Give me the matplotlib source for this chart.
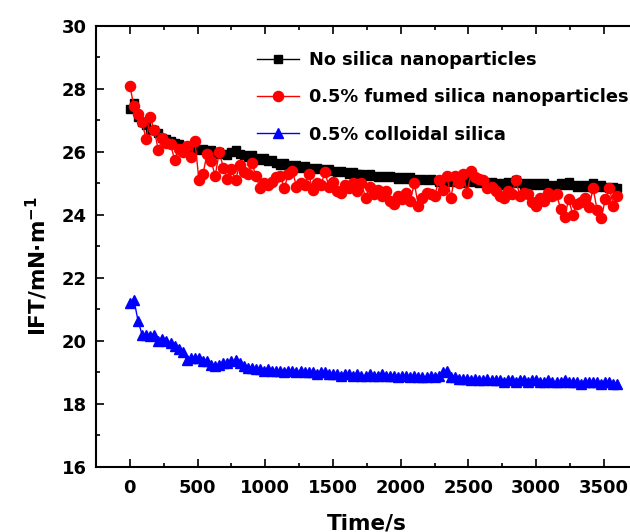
import matplotlib
matplotlib.use("Agg")
import matplotlib.pyplot as plt
import numpy as np
from matplotlib.ticker import MultipleLocator

plt.rcParams['font.family'] = ['DejaVu Sans']
plt.rcParams['font.weight'] = 'bold'
plt.rcParams['mathtext.default'] = 'bf'

# sampling times (s), one reading every 30 s
time_s = np.arange(0, 3601, 30)

# IFT (mN/m)
no_silica = [
    27.35, 27.55, 27.1, 26.95, 26.85, 26.7, 26.7, 26.6, 26.45, 26.4,
    26.35, 26.3, 26.25, 26.2, 26.15, 26.2, 26.1, 26.05, 26.1, 26.0,
    26.05, 25.95, 26.0, 25.95, 25.9, 26.0, 26.05, 25.95, 25.9, 25.85,
    25.9, 25.8, 25.75, 25.8, 25.7, 25.75, 25.65, 25.6, 25.65, 25.6,
    25.55, 25.6, 25.5, 25.55, 25.5, 25.45, 25.5, 25.45, 25.4, 25.45,
    25.4, 25.35, 25.4, 25.35, 25.3, 25.35, 25.3, 25.3, 25.25, 25.3,
    25.25, 25.2, 25.25, 25.2, 25.25, 25.2, 25.15, 25.2, 25.15, 25.2,
    25.15, 25.1, 25.15, 25.1, 25.15, 25.1, 25.05, 25.1, 25.05, 25.1,
    25.05, 25.1, 25.0, 25.05, 25.1, 25.05, 25.0, 25.05, 25.0, 25.05,
    25.0, 24.95, 25.0, 25.05, 25.0, 25.1, 25.0, 24.95, 25.0, 24.95,
    25.0, 24.95, 25.0, 24.95, 24.9, 24.95, 25.0, 24.95, 25.05, 24.95,
    24.9, 24.95, 24.9, 24.95, 25.0, 24.9, 24.95, 24.9, 24.85, 24.9,
    24.85,
]

fumed_silica = [
    28.1, 27.45, 27.2, 26.95, 26.4, 27.1, 26.7, 26.05, 26.45, 26.3,
    26.25, 25.75, 26.1, 26.0, 26.2, 25.85, 26.35, 25.1, 25.3, 25.95,
    25.7, 25.25, 26.0, 25.5, 25.15, 25.45, 25.1, 25.6, 25.35, 25.3,
    25.65, 25.25, 24.85, 25.0, 24.95, 25.05, 25.2, 25.25, 24.85, 25.3,
    25.4, 24.9, 25.0, 24.95, 25.3, 24.8, 25.0, 24.95, 25.35, 24.9,
    25.05, 24.75, 24.7, 24.95, 24.85, 25.0, 24.75, 25.0, 24.55, 24.9,
    24.65, 24.8, 24.6, 24.75, 24.45, 24.35, 24.6, 24.5, 24.7, 24.45,
    25.0, 24.3, 24.55, 24.7, 24.65, 24.6, 25.1, 24.8, 25.25, 24.55,
    25.25, 25.0, 25.3, 24.7, 25.4, 25.2, 25.15, 25.1, 24.85, 24.9,
    24.75, 24.6, 24.55, 24.75, 24.65, 25.1, 24.6, 24.7, 24.65, 24.4,
    24.3, 24.55, 24.45, 24.7, 24.6, 24.65, 24.2, 23.95, 24.5, 24.0,
    24.35, 24.4, 24.55, 24.25, 24.85, 24.15, 23.9, 24.5, 24.85, 24.3,
    24.6,
]

colloidal_silica = [
    21.2, 21.3, 20.65, 20.2, 20.2, 20.15, 20.2, 20.0, 20.05, 20.0,
    19.95, 19.85, 19.75, 19.65, 19.4, 19.45, 19.45, 19.45, 19.35, 19.35,
    19.25, 19.2, 19.25, 19.3, 19.3, 19.35, 19.4, 19.3, 19.2, 19.15,
    19.15, 19.1, 19.1, 19.05, 19.1, 19.05, 19.05, 19.05, 19.0, 19.05,
    19.05, 19.0, 19.05, 19.0, 19.0, 19.0, 18.95, 19.0, 19.0, 18.95,
    18.95, 18.95, 18.9, 18.95, 18.95, 18.9, 18.95, 18.9, 18.9, 18.95,
    18.9, 18.9, 18.95, 18.9, 18.9, 18.9, 18.85, 18.9, 18.9, 18.85,
    18.9, 18.85, 18.85, 18.85, 18.9, 18.85, 18.9, 19.0, 19.05, 18.85,
    18.85, 18.8, 18.8, 18.8, 18.75, 18.8, 18.75, 18.75, 18.8, 18.75,
    18.75, 18.75, 18.7, 18.75, 18.75, 18.7, 18.75, 18.75, 18.7, 18.75,
    18.75, 18.7, 18.7, 18.75, 18.7, 18.7, 18.7, 18.75, 18.7, 18.7,
    18.7, 18.65, 18.7, 18.7, 18.7, 18.7, 18.65, 18.7, 18.7, 18.65,
    18.65,
]

labels = ["No silica nanoparticles", "0.5% fumed silica nanoparticles",
          "0.5% colloidal silica"]

fig = plt.figure(figsize=(6.3, 5.32), dpi=100)
ax = fig.add_axes([0.1524, 0.1222, 0.860, 0.829])

ax.plot(time_s, no_silica, '-s', color='black', markersize=5.5, linewidth=1, label=labels[0])
ax.plot(time_s, fumed_silica, '-o', color='red', markersize=7.3, linewidth=1, label=labels[1])
ax.plot(time_s, colloidal_silica, '-^', color='blue', markersize=7.8, linewidth=1, label=labels[2])

ax.set_xlim(-250, 3750)
ax.set_ylim(16, 30)
ax.xaxis.set_major_locator(MultipleLocator(500))
ax.xaxis.set_minor_locator(MultipleLocator(250))
ax.yaxis.set_major_locator(MultipleLocator(2))
ax.yaxis.set_minor_locator(MultipleLocator(1))
ax.tick_params(which='both', direction='in', top=True, right=True, labelsize=13, width=1.2)
ax.tick_params(which='major', length=5.5)
ax.tick_params(which='minor', length=3.2)
ax.tick_params(axis='x', pad=8.5)
ax.tick_params(axis='y', pad=6.5)
for sp in ax.spines.values():
    sp.set_linewidth(1.5)

ax.set_xlabel("Time/s", fontsize=15.5, fontweight='bold')
ax.set_ylabel(r"IFT/mN·m$^{-1}$", fontsize=15.5, fontweight='bold')
ax.xaxis.set_label_coords(0.5, -0.105)
ax.yaxis.set_label_coords(-0.085, 0.455)

ax.legend(loc='upper left', bbox_to_anchor=(0.280, 0.963), frameon=False,
          borderpad=0, handlelength=2.4, labelspacing=1.08, handletextpad=0.55,
          prop={'weight': 'bold', 'size': 12.8})

fig.savefig("out.png", dpi=100)
